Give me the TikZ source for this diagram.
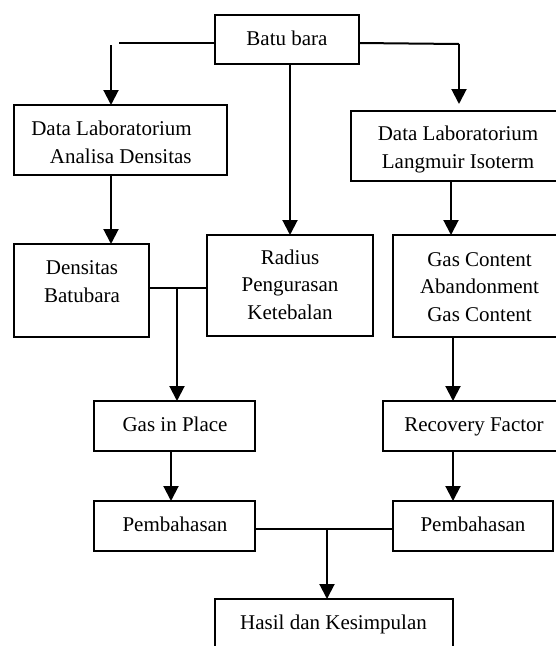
\documentclass[tikz,border=0pt]{standalone}
\usepackage{fontspec}
\setmainfont{Liberation Serif}
\usetikzlibrary{arrows.meta}
\begin{document}
\begin{tikzpicture}[x=1pt,y=-1pt,
  box/.style={draw,line width=2pt,rectangle,inner sep=0pt,outer sep=0pt},
  txt/.style={inner sep=0pt,outer sep=0pt,anchor=base,font=\fontsize{21}{27.5}\selectfont},
  ln/.style={line width=2pt},
  arr/.style={line width=2pt,-{Triangle[width=15pt,length=15pt]}}]
\useasboundingbox (0,0) rectangle (556,646);
% boxes
\node[box,minimum width=144pt,minimum height=49pt] (batu) at (287,39.5) {};
\node[box,minimum width=213pt,minimum height=70pt] (dlab) at (120.5,140) {};
\node[box,minimum width=219pt,minimum height=70pt] (dlabR) at (460.5,146) {};
\node[box,minimum width=135pt,minimum height=93pt] (dens) at (81.5,290.5) {};
\node[box,minimum width=166pt,minimum height=101pt] (rad) at (290,285.5) {};
\node[box,minimum width=177pt,minimum height=102pt] (gc) at (481.5,286) {};
\node[box,minimum width=161pt,minimum height=50pt] (gip) at (174.5,426) {};
\node[box,minimum width=187pt,minimum height=50pt] (rf) at (476.5,426) {};
\node[box,minimum width=161pt,minimum height=50pt] (pl) at (174.5,526) {};
\node[box,minimum width=160pt,minimum height=50pt] (pr) at (473,526) {};
\node[box,minimum width=238pt,minimum height=81pt] (hasil) at (334,639.5) {};
% texts (base anchor = baseline of the last line)
\node[txt] (tbatu) at (287,45) {Batu bara};
\node[txt,align=right] (tdlab) at (111.5,163) {Data Laboratorium\\Analisa Densitas};
\node[txt,align=center] (tdlabR) at (458,168) {Data Laboratorium\\Langmuir Isoterm};
\node[txt,align=center] (tdens) at (82,302) {Densitas\\Batubara};
\node[txt,align=center] (trad) at (290,319) {Radius\\Pengurasan\\Ketebalan};
\node[txt,align=center] (tgc) at (479.5,321) {Gas Content\\Abandonment\\Gas Content};
\node[txt] (tgip) at (175,431) {Gas in Place};
\node[txt] (trf) at (474,431) {Recovery Factor};
\node[txt] (tpl) at (175,531) {Pembahasan};
\node[txt] (tpr) at (473,531) {Pembahasan};
\node[txt] (thasil) at (333.5,629) {Hasil dan Kesimpulan};
% connectors
\coordinate (bl) at (119,43);
\coordinate (al) at (111,45);
\coordinate (br) at (459,44);
\coordinate (j1) at (177,288);
\coordinate (j2) at (327,529);
\draw[ln] (bl) -- (bl -| batu.west);
\draw[arr] (al) -- (al |- dlab.north);
\draw[ln] (batu.east |- 0,43) -- (br);
\draw[arr] (br) -- ([yshift=7pt]br |- dlabR.north);
\draw[arr] (batu.south -| rad.north) -- (rad.north);
\draw[arr] (dlab.south -| al) -- (dens.north -| al);
\draw[ln] (dens.east |- j1) -- (rad.west |- j1);
\draw[arr] (j1) -- (gip.north -| j1);
\draw[arr] (dlabR.south -| 451,0) -- (gc.north -| 451,0);
\draw[arr] (gc.south -| 453,0) -- (rf.north -| 453,0);
\draw[arr] (gip.south -| 171,0) -- (pl.north -| 171,0);
\draw[arr] (rf.south -| 453,0) -- (pr.north -| 453,0);
\draw[ln] (pl.east |- j2) -- (pr.west |- j2);
\draw[arr] (j2) -- (hasil.north -| j2);
\end{tikzpicture}
\end{document}
